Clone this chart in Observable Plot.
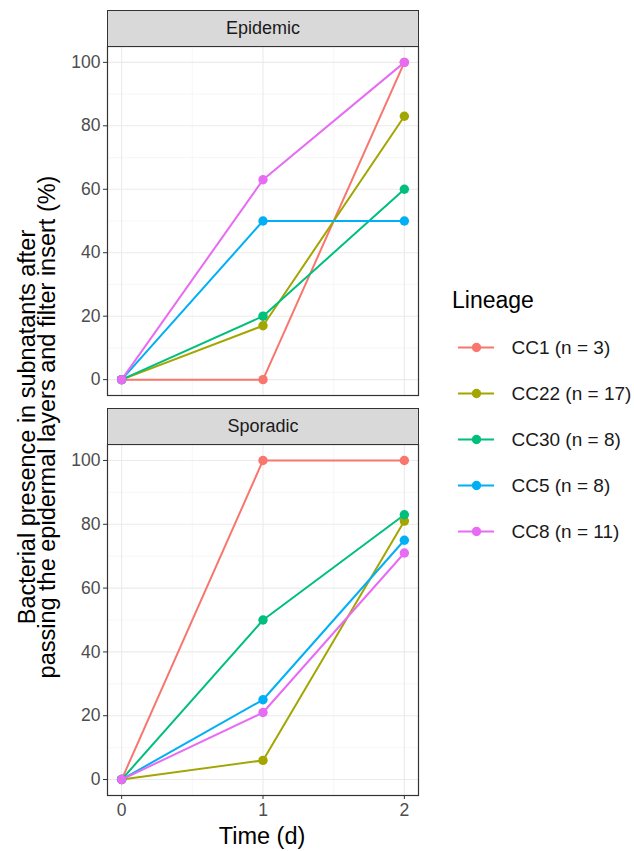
<!DOCTYPE html>
<html>
<head>
<meta charset="utf-8">
<script src="https://cdn.jsdelivr.net/npm/d3@7"></script>
<script src="https://cdn.jsdelivr.net/npm/@observablehq/plot@0.6"></script>
<style>
  html, body { margin: 0; padding: 0; background: white; }
  #root { position: relative; width: 634px; height: 851px; overflow: hidden;
          font-family: "Liberation Sans", Arial, Helvetica, sans-serif; }
  .abs { position: absolute; }
  .strip { position: absolute; box-sizing: border-box; background: #D9D9D9; border: 1.2px solid #333;
           color: #1A1A1A; font-size: 18px; text-align: center; }
</style>
</head>
<body>
<div id="root"></div>
<script>
// ---- data ----
const times = [0, 1, 2];
const lineages = ["CC1 (n = 3)", "CC22 (n = 17)", "CC30 (n = 8)", "CC5 (n = 8)", "CC8 (n = 11)"];
const colors = ["#F8766D", "#A3A500", "#00BF7D", "#00B0F6", "#E76BF3"];
const facets = ["Epidemic", "Sporadic"];

const epidemicCC1  = [0, 0, 100];
const epidemicCC22 = [0, 17, 83];
const epidemicCC30 = [0, 20, 60];
const epidemicCC5  = [0, 50, 50];
const epidemicCC8  = [0, 63, 100];

const sporadicCC1  = [0, 100, 100];
const sporadicCC22 = [0, 6, 81];
const sporadicCC30 = [0, 50, 83];
const sporadicCC5  = [0, 25, 75];
const sporadicCC8  = [0, 21, 71];

const yTicks = [0, 20, 40, 60, 80, 100];
const yMinor = [10, 30, 50, 70, 90];
const xMinor = [0.5, 1.5];

const yTitle1 = "Bacterial presence in subnatants after";
const yTitle2 = "passing the epidermal layers and filter insert (%)";
const xTitle = "Time (d)";
const legendTitle = "Lineage";

// ---- helpers ----
function makeData(group, series) {
  const rows = [];
  lineages.forEach((l, i) => times.forEach((t, j) => rows.push({group, lineage: l, time: t, pct: series[i][j]})));
  return rows;
}

function panel(data, height, showX) {
  const marks = [
    Plot.ruleY(yMinor, {stroke: "#F3F3F3", strokeWidth: 0.7}),
    Plot.ruleX(xMinor, {stroke: "#F3F3F3", strokeWidth: 0.7}),
    Plot.ruleY(yTicks, {stroke: "#EBEBEB", strokeWidth: 1.1}),
    Plot.ruleX(times, {stroke: "#EBEBEB", strokeWidth: 1.1}),
    Plot.line(data, {x: "time", y: "pct", stroke: "lineage", strokeWidth: 2}),
    Plot.dot(data, {x: "time", y: "pct", fill: "lineage", r: 4.7}),
    Plot.axisY(yTicks, {tickSize: 4, tickPadding: 3, fontSize: 17.5, label: null, stroke: "#333"}),
    Plot.frame({stroke: "#333", strokeWidth: 1.2})
  ];
  if (showX) marks.push(Plot.axisX(times, {tickSize: 4, tickPadding: 4, fontSize: 17.5, label: null, stroke: "#333", tickFormat: d => String(d)}));
  return Plot.plot({
    width: 420, height: height + (showX ? 30 : 0),
    marginLeft: 107, marginRight: 2, marginTop: 0, marginBottom: showX ? 30 : 0,
    style: {color: "#4D4D4D", background: "white", fontFamily: "Liberation Sans, Arial, sans-serif", overflow: "visible"},
    x: {domain: [-0.1, 2.1], axis: null},
    y: {domain: [-5, 105], axis: null},
    color: {domain: lineages, range: colors},
    marks
  });
}

const root = document.getElementById("root");
function place(el, left, top) { el.classList.add("abs"); el.style.left = left + "px"; el.style.top = top + "px"; root.appendChild(el); return el; }

// strips
function strip(label, top) {
  const s = document.createElement("div");
  s.className = "strip";
  s.style.left = "107px"; s.style.top = top + "px"; s.style.width = "312px"; s.style.height = "37px";
  s.style.lineHeight = "34px";
  s.textContent = label;
  root.appendChild(s);
}

const epi = makeData(facets[0], [epidemicCC1, epidemicCC22, epidemicCC30, epidemicCC5, epidemicCC8]);
const spo = makeData(facets[1], [sporadicCC1, sporadicCC22, sporadicCC30, sporadicCC5, sporadicCC8]);

place(panel(epi, 349, false), 0, 46);
place(panel(spo, 351, true), 0, 444);
strip(facets[0], 10);
strip(facets[1], 408);

// x title
const xt = document.createElement("div");
xt.textContent = xTitle;
xt.style.cssText = "font-size:23.5px;color:#000;width:200px;text-align:center;white-space:nowrap;";
place(xt, 162, 823);

// y title
const yt = document.createElement("div");
[yTitle1, yTitle2].forEach(t => { const d = document.createElement("div"); d.textContent = t; yt.appendChild(d); });
yt.style.cssText = "font-size:23.5px;line-height:20px;color:#000;text-align:center;white-space:nowrap;transform:translate(-50%,-50%) rotate(-90deg);";
place(yt, 37, 427);

// legend
const lt = document.createElement("div");
lt.textContent = legendTitle;
lt.style.cssText = "font-size:23px;color:#000;white-space:nowrap;";
place(lt, 452, 287);

const legend = Plot.plot({
  width: 190, height: 230, margin: 0,
  style: {background: "transparent", fontFamily: "Liberation Sans, Arial, sans-serif", overflow: "visible"},
  x: {type: "linear", domain: [0, 190], range: [0, 190], axis: null},
  y: {type: "point", domain: lineages, range: [23, 207], padding: 0, axis: null},
  color: {domain: lineages, range: colors},
  marks: [
    Plot.ruleY(lineages, {y: d => d, x1: 18, x2: 54, stroke: d => d, strokeWidth: 2}),
    Plot.dot(lineages, {x: 36, y: d => d, fill: d => d, r: 4.7}),
    Plot.text(lineages, {x: 71, y: d => d, text: d => d, textAnchor: "start", fontSize: 19, fill: "#1A1A1A"})
  ]
});
place(legend, 440, 324);
</script>
</body>
</html>
